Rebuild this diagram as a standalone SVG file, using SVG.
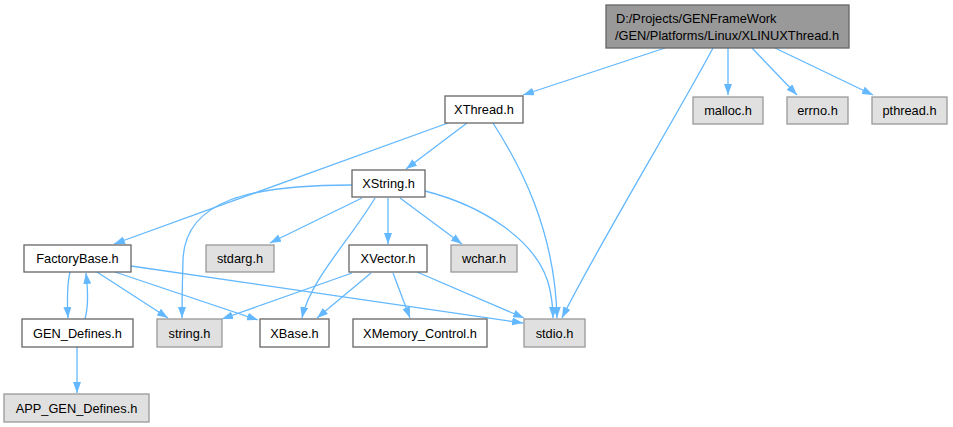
<svg xmlns="http://www.w3.org/2000/svg" width="953" height="427" viewBox="0 0 953 427">
<style>
text{font-family:"Liberation Sans",Arial,sans-serif;font-size:12.8px;fill:#000}
.w{fill:#fff;stroke:#666;stroke-width:1.3}
.g{fill:#e0e0e0;stroke:#999;stroke-width:1.3}
.r{fill:#999;stroke:#666;stroke-width:1.3}
.e{fill:none;stroke:#63b8ff;stroke-width:1.3;marker-end:url(#a)}
.c{text-anchor:middle}
</style>
<defs>
<marker id="a" viewBox="0 0 11 8" refX="11" refY="4" markerWidth="11" markerHeight="8" markerUnits="userSpaceOnUse" orient="auto">
<path d="M0,0 L11,4 L0,8 z" fill="#63b8ff"/>
</marker>
</defs>
<rect width="953" height="427" fill="#fff"/>
<g id="edges">
<path class="e" d="M665,48 L523,95"/>
<path class="e" d="M713,48 C680,110 590,260 562,318"/>
<path class="e" d="M728,48 L728,95"/>
<path class="e" d="M752,48 L797,95"/>
<path class="e" d="M775,48 L873,95"/>
<path class="e" d="M448,123 L114,244"/>
<path class="e" d="M467,123 L406,169"/>
<path class="e" d="M493,123 C520,165 555,230 557,318"/>
<path class="e" d="M352,185 C250,185 185,200 183,260 C182,290 182,305 182,318"/>
<path class="e" d="M362,198 L270,243"/>
<path class="e" d="M375,198 C350,240 310,280 302,318"/>
<path class="e" d="M388,198 L388,244"/>
<path class="e" d="M400,198 L462,244"/>
<path class="e" d="M425,191 C480,205 540,240 550,290 C553,305 553,312 553,318"/>
<path class="e" d="M70,272 C67,285 67,300 68,318"/>
<path class="e" d="M85,319 C89,305 88,290 86,273"/>
<path class="e" d="M97,272 L168,318"/>
<path class="e" d="M115,272 L258,320"/>
<path class="e" d="M131,266 L523,323"/>
<path class="e" d="M352,273 L222,319"/>
<path class="e" d="M371,273 L317,318"/>
<path class="e" d="M393,273 L410,318"/>
<path class="e" d="M417,272 L524,318"/>
<path class="e" d="M77,347 L77,393"/>
</g>
<g id="root"><rect class="r" x="606" y="5" width="243" height="43"/><text x="616" y="23">D:/Projects/GENFrameWork</text><text x="615" y="40">/GEN/Platforms/Linux/XLINUXThread.h</text></g>
<g id="malloc"><rect class="g" x="693" y="97" width="70" height="27"/><text class="c" x="728" y="115">malloc.h</text></g>
<g id="errno"><rect class="g" x="787" y="97" width="61" height="27"/><text class="c" x="817.5" y="115">errno.h</text></g>
<g id="pthread"><rect class="g" x="872" y="97" width="75" height="27"/><text class="c" x="909.5" y="115">pthread.h</text></g>
<g id="xthread"><rect class="w" x="445" y="96" width="78" height="27"/><text class="c" x="484" y="114">XThread.h</text></g>
<g id="xstring"><rect class="w" x="352" y="170" width="73" height="27"/><text class="c" x="388.5" y="188">XString.h</text></g>
<g id="factorybase"><rect class="w" x="24" y="245" width="107" height="27"/><text class="c" x="77.5" y="263">FactoryBase.h</text></g>
<g id="stdarg"><rect class="g" x="206" y="245" width="68" height="27"/><text class="c" x="240" y="263">stdarg.h</text></g>
<g id="xvector"><rect class="w" x="349" y="245" width="78" height="27"/><text class="c" x="388" y="263">XVector.h</text></g>
<g id="wchar"><rect class="g" x="451" y="245" width="66" height="27"/><text class="c" x="484" y="263">wchar.h</text></g>
<g id="gendefines"><rect class="w" x="22" y="319" width="111" height="28"/><text class="c" x="77.5" y="338">GEN_Defines.h</text></g>
<g id="string"><rect class="g" x="157" y="319" width="65" height="28"/><text class="c" x="189.5" y="338">string.h</text></g>
<g id="xbase"><rect class="w" x="260" y="319" width="69" height="28"/><text class="c" x="294.5" y="338">XBase.h</text></g>
<g id="xmemory"><rect class="w" x="353" y="319" width="134" height="28"/><text class="c" x="420" y="338">XMemory_Control.h</text></g>
<g id="stdio"><rect class="g" x="524" y="319" width="61" height="28"/><text class="c" x="554.5" y="338">stdio.h</text></g>
<g id="appgendefines"><rect class="g" x="4" y="394" width="145" height="28"/><text class="c" x="76.5" y="413">APP_GEN_Defines.h</text></g>
</svg>
